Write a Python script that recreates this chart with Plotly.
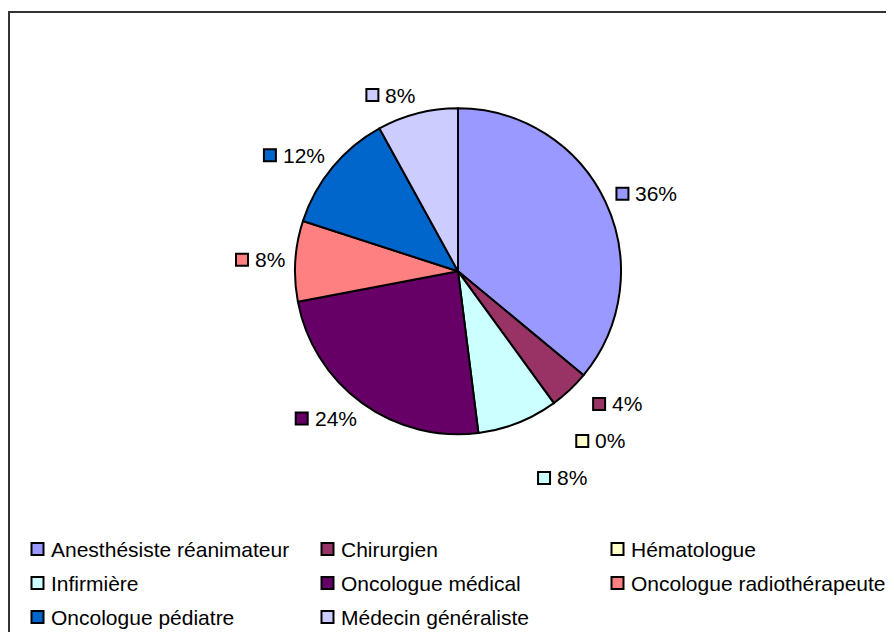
import math
import plotly.graph_objects as go

# ---------------- data ----------------
categories = ["Anesthésiste réanimateur", "Chirurgien", "Hématologue", "Infirmière",
              "Oncologue médical", "Oncologue radiothérapeute", "Oncologue pédiatre",
              "Médecin généraliste"]
counts = [9, 1, 0, 2, 6, 2, 3, 2]
colors = ["#9999FF", "#993366", "#FFFFCC", "#CCFFFF", "#660066", "#FF8080",
          "#0066CC", "#CCCCFF"]

# ---------------- layout constants (screen pixels) ----------------
W, H = 894, 632
OFF = 8                   # page body margin: figure starts 8px in
CX, CY, R = 458.0, 271.3, 163.0
FONT = "Liberation Sans, Arial, sans-serif"
FS = 21
SQ, GAP = 14, 5          # label key square and gap to text
RL, LH = 174, 16         # label radial distance, label box height
SPACING, PUSH = 37, 15   # collision spacing and outward shift
LEG_COLS = [37.5, 327.5, 617.5]
LEG_ROWS = [549, 583, 617]

CW = {**{d: 0.556 for d in "0123456789"}, "%": 0.889}

total = sum(counts)
pcts = [round(100 * c / total) for c in counts]
texts = [f"{p}%" for p in pcts]

fig = go.Figure()

# pie domain in figure fractions (figure origin at screen OFF, OFF)
fx0, fx1 = (CX - R - OFF) / W, (CX + R - OFF) / W
fy0, fy1 = 1 - (CY + R - OFF) / H, 1 - (CY - R - OFF) / H
fig.add_trace(go.Pie(
    labels=categories, values=counts, sort=False, direction="clockwise", rotation=0,
    marker=dict(colors=colors, line=dict(color="#000000", width=2)),
    textinfo="none", hoverinfo="skip", showlegend=False,
    domain=dict(x=[fx0, fx1], y=[fy0, fy1]),
))

# ---------------- data labels (computed from slice angles) ----------------
labels = []
cum = 0
for i, c in enumerate(counts):
    th = (cum + c / 2) / total * 2 * math.pi
    cum += c
    ux, uy = math.sin(th), -math.cos(th)
    tw = sum(CW.get(ch, 0.556) for ch in texts[i]) * FS
    w = SQ + GAP + tw
    side = 1 if ux >= 0 else -1
    lx = CX + RL * ux + side * w / 2
    ly = CY + RL * uy + LH / 2 * uy
    labels.append(dict(i=i, w=w, x=lx, y=ly, side=side, hit=False))

for side in (1, -1):
    grp = sorted([l for l in labels if l["side"] == side], key=lambda l: l["y"])
    for a, b in zip(grp, grp[1:]):
        if b["y"] - a["y"] < SPACING:
            b["y"] = a["y"] + SPACING
            a["hit"] = b["hit"] = True
for l in labels:
    if l["hit"]:
        l["x"] += l["side"] * PUSH

sx, sy, sc = [], [], []
annotations = []
for l in labels:
    left = l["x"] - l["w"] / 2
    sx.append(left + SQ / 2)
    sy.append(l["y"])
    sc.append(colors[l["i"]])
    annotations.append(dict(x=left + SQ + GAP - 1, y=l["y"], xref="x", yref="y",
                            text=texts[l["i"]], showarrow=False, xanchor="left",
                            yanchor="middle", font=dict(family=FONT, size=FS, color="#000000")))

# ---------------- legend ----------------
for k, name in enumerate(categories):
    r, c = divmod(k, 3)
    sx.append(LEG_COLS[c])
    sy.append(LEG_ROWS[r])
    sc.append(colors[k])
    annotations.append(dict(x=LEG_COLS[c] + SQ / 2 + GAP - 1, y=LEG_ROWS[r], xref="x", yref="y",
                            text=name, showarrow=False, xanchor="left", yanchor="middle",
                            font=dict(family=FONT, size=FS, color="#000000")))

fig.add_trace(go.Scatter(
    x=sx, y=sy, mode="markers", hoverinfo="skip", showlegend=False,
    marker=dict(symbol="square", size=SQ - 2, color=sc, line=dict(color="#000000", width=2)),
))

fig.update_layout(
    width=W, height=H, margin=dict(l=0, r=0, t=0, b=0),
    paper_bgcolor="#FFFFFF", plot_bgcolor="rgba(0,0,0,0)",
    xaxis=dict(range=[OFF, W + OFF], visible=False, fixedrange=True),
    yaxis=dict(range=[H + OFF, OFF], visible=False, fixedrange=True),
    annotations=annotations,
    shapes=[dict(type="rect", xref="x", yref="y", x0=9, y0=12, x1=W + 20, y1=H + 20,
                 line=dict(color="#333333", width=2), fillcolor="rgba(0,0,0,0)", layer="below")],
    font=dict(family=FONT, size=FS, color="#000000"),
)

fig.write_html("out.html")
